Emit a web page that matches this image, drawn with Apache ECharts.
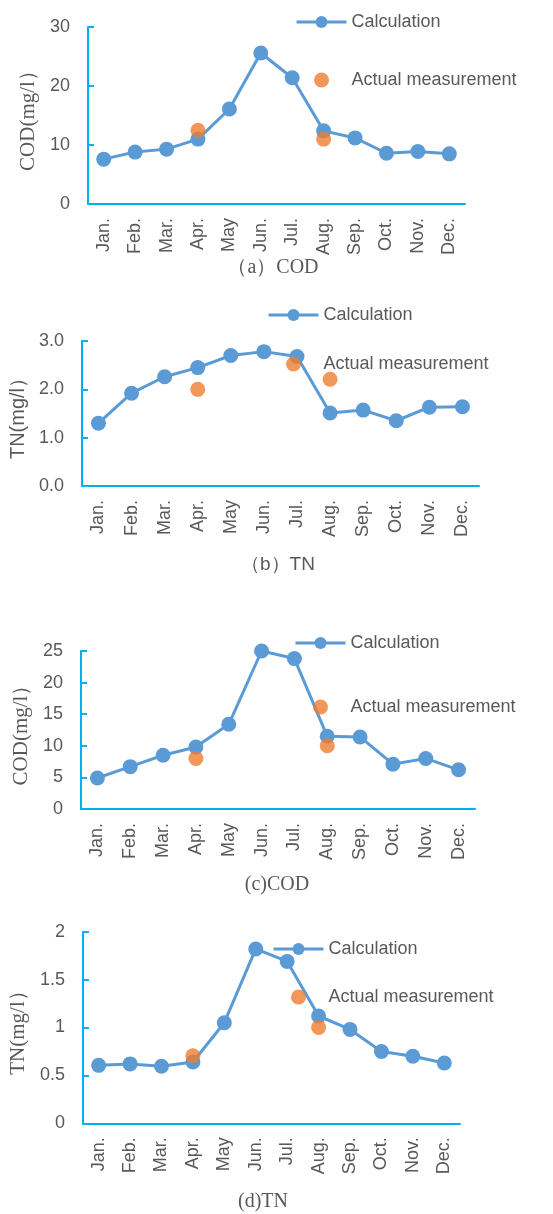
<!DOCTYPE html>
<html><head><meta charset="utf-8">
<script src="https://cdn.jsdelivr.net/npm/echarts@6/dist/echarts.min.js"></script>
<style>html,body{margin:0;padding:0;background:#fff}#c{width:553px;height:1214px}</style>
</head><body><div id="c"></div>
<script>
const months = ['Jan.','Feb.','Mar.','Apr.','May','Jun.','Jul.','Aug.','Sep.','Oct.','Nov.','Dec.'];
const calcA = [7.6, 8.8, 9.3, 11.0, 16.1, 25.6, 21.4, 12.4, 11.2, 8.6, 8.9, 8.5];
const measA = [null, null, null, 12.5, null, null, null, 11.0, null, null, null, null];
const calcB = [1.30, 1.92, 2.26, 2.45, 2.70, 2.78, 2.68, 1.51, 1.57, 1.35, 1.63, 1.64];
const measB = [null, null, null, 2.00, null, null, null, 2.21, null, null, null, null];
const calcC = [4.9, 6.7, 8.5, 9.8, 13.4, 25.0, 23.8, 11.5, 11.4, 7.1, 8.0, 6.2];
const measC = [null, null, null, 8.0, null, null, null, 10.0, null, null, null, null];
const calcD = [0.605, 0.62, 0.595, 0.64, 1.05, 1.82, 1.69, 1.12, 0.98, 0.75, 0.70, 0.63];
const measD = [null, null, null, 0.705, null, null, null, 1.0, null, null, null, null];
const yNames = ['COD(mg/l\uFF09', 'TN(mg/l\uFF09', 'COD(mg/l\uFF09', 'TN(mg/l\uFF09'];
const captions = ['\uFF08a\uFF09COD', '\uFF08b\uFF09TN', '(c)COD', '(d)TN'];
const seriesNames = ['Calculation', 'Actual measurement'];

const BLUE = '#5B9BD5', ORANGE = '#ED7D31', AXIS = '#00B0F0', TXT = '#595959';
const SANS = 'Liberation Sans', SERIF = 'Liberation Serif';

const panels = [
  {calc: calcA, meas: measA, grid: {left: 88, top: 27, width: 377, height: 177}, y: {max: 30, interval: 10, dec: 0},
   name: {gap: 48, font: SERIF, size: 21},
   legend: {left: 295, c1: 22, c2: 80}, cap: {x: 273, y: 268, font: SERIF, size: 20}},
  {calc: calcB, meas: measB, grid: {left: 70, top: 341, width: 409, height: 145}, y: {max: 3, interval: 1, dec: 1},
   name: {gap: 45, font: SANS, size: 20},
   legend: {left: 267, c1: 315, c2: 364}, cap: {x: 278, y: 565, font: SANS, size: 19}},
  {calc: calcC, meas: measC, grid: {left: 81, top: 651, width: 394, height: 158}, y: {max: 25, interval: 5, dec: 0},
   name: {gap: 46, font: SERIF, size: 21},
   legend: {left: 294, c1: 643, c2: 707}, cap: {x: 277, y: 885, font: SERIF, size: 20}},
  {calc: calcD, meas: measD, grid: {left: 82, top: 931.7, width: 378, height: 191.6}, y: {max: 2, interval: 0.5, dec: -1},
   name: {gap: 49, font: SERIF, size: 21},
   legend: {left: 272, c1: 949, c2: 997}, cap: {x: 263, y: 1202, font: SERIF, size: 20}}
];

const option = {
  backgroundColor: '#fff',
  animation: false,
  grid: [], xAxis: [], yAxis: [], series: [], legend: [], graphic: []
};

const ROW = 18;
const legendText = {color: TXT, fontSize: 18, fontFamily: SANS, lineHeight: ROW};

panels.forEach((p, i) => {
  option.grid.push(Object.assign({containLabel: false}, p.grid));
  option.xAxis.push({
    type: 'category', gridIndex: i, data: months, boundaryGap: true,
    axisLine: {lineStyle: {color: AXIS, width: 2}},
    axisTick: {inside: true, length: 6, lineStyle: {color: AXIS, width: 2}},
    axisLabel: {rotate: 90, interval: 0, margin: 14, color: TXT, fontSize: 18, fontFamily: SANS},
    splitLine: {show: false}
  });
  option.yAxis.push({
    type: 'value', gridIndex: i, min: 0, max: p.y.max, interval: p.y.interval,
    name: yNames[i], nameLocation: 'middle', nameGap: p.name.gap,
    nameTextStyle: {color: TXT, fontSize: p.name.size, fontFamily: p.name.font},
    axisLine: {show: true, lineStyle: {color: AXIS, width: 2}},
    axisTick: {show: true, inside: true, length: 6, lineStyle: {color: AXIS, width: 2}},
    axisLabel: {color: TXT, fontSize: 18, fontFamily: SANS, margin: 18,
      formatter: v => p.y.dec >= 0 ? v.toFixed(p.y.dec) : String(v)},
    splitLine: {show: false}
  });
  option.series.push({
    name: seriesNames[0], type: 'line', xAxisIndex: i, yAxisIndex: i, data: p.calc,
    symbol: 'circle', symbolSize: 15, color: BLUE,
    lineStyle: {color: BLUE, width: 3}, itemStyle: {color: BLUE}, z: 2
  });
  option.series.push({
    name: seriesNames[1], type: 'scatter', xAxisIndex: i, yAxisIndex: i, data: p.meas,
    symbol: 'circle', symbolSize: 15, itemStyle: {color: ORANGE}, z: 3
  });
  option.legend.push({
    orient: 'vertical', left: p.legend.left, top: p.legend.c1 - ROW / 2,
    itemGap: (p.legend.c2 - p.legend.c1) - ROW,
    padding: 0, itemWidth: 50, itemHeight: 15, selectedMode: false,
    lineStyle: {width: 3},
    textStyle: legendText,
    data: [{name: seriesNames[0]}, {name: seriesNames[1], icon: 'circle'}]
  });
  option.graphic.push({
    type: 'text', x: p.cap.x, y: p.cap.y,
    style: {text: captions[i], fill: TXT, fontSize: p.cap.size, fontFamily: p.cap.font, align: 'center', verticalAlign: 'middle'}
  });
});

const chart = echarts.init(document.getElementById('c'), null, {renderer: 'canvas'});
chart.setOption(option);
</script></body></html>
